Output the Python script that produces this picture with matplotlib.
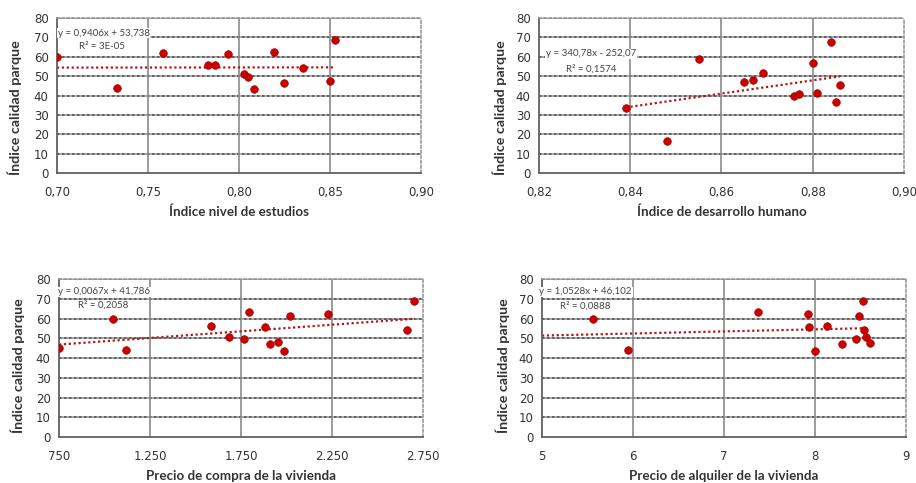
import numpy as np
import matplotlib.pyplot as plt
from matplotlib.ticker import FuncFormatter

# Panel 1: Índice nivel de estudios
estudios_x = [0.700, 0.733, 0.758, 0.783, 0.787, 0.794, 0.803, 0.805, 0.808, 0.819, 0.825, 0.835, 0.850, 0.853]
estudios_y = [59.8, 44.0, 62.2, 55.6, 56.0, 61.3, 50.9, 49.4, 43.2, 62.7, 46.6, 54.1, 47.7, 68.6]

# Panel 2: Índice de desarrollo humano
idh_x = [0.839, 0.848, 0.855, 0.865, 0.867, 0.869, 0.876, 0.877, 0.880, 0.881, 0.884, 0.885, 0.886]
idh_y = [33.7, 16.4, 59.1, 47.0, 48.2, 51.8, 39.6, 40.6, 56.6, 41.1, 67.4, 36.4, 45.4]

# Panel 3: Precio de compra de la vivienda
compra_x = [752, 1047, 1118, 1586, 1683, 1764, 1793, 1883, 1910, 1951, 1987, 2017, 2229, 2662, 2699]
compra_y = [44.9, 59.8, 44.1, 56.4, 50.8, 49.7, 63.2, 55.9, 46.9, 48.0, 43.6, 61.5, 62.4, 54.2, 69.0]

# Panel 4: Precio de alquiler de la vivienda
alquiler_x = [5.557, 5.946, 7.376, 7.926, 7.937, 8.000, 8.127, 8.300, 8.446, 8.487, 8.527, 8.538, 8.560, 8.604]
alquiler_y = [59.8, 44.1, 63.2, 62.5, 55.8, 43.4, 56.4, 46.9, 49.7, 61.5, 69.0, 54.2, 50.8, 47.8]

# trendline equations as printed on the chart
trends = [
    (0.9406, 53.738, "y = 0,9406x + 53,738", "R² = 3E-05"),
    (340.78, -252.07, "y = 340,78x - 252,07", "R² = 0,1574"),
    (0.0067, 41.786, "y = 0,0067x + 41,786", "R² = 0,2058"),
    (1.0528, 46.102, "y = 1,0528x + 46,102", "R² = 0,0888"),
]

xlabels = ["Índice nivel de estudios", "Índice de desarrollo humano",
           "Precio de compra de la vivienda", "Precio de alquiler de la vivienda"]
xlims = [(0.70, 0.90), (0.82, 0.90), (750, 2750), (5, 9)]
xticks = [np.arange(0.70, 0.901, 0.05), np.arange(0.82, 0.901, 0.02),
          [750, 1250, 1750, 2250, 2750], [5, 6, 7, 8, 9]]
fmts = [lambda v, p: f"{v:.2f}".replace(".", ","),
        lambda v, p: f"{v:.2f}".replace(".", ","),
        lambda v, p: f"{int(round(v)):,}".replace(",", "."),
        lambda v, p: f"{int(round(v))}"]
trend_range = [(0.700, 0.853), (0.839, 0.886), (750, 2700), (5.0, 8.6)]
datasets = [(estudios_x, estudios_y), (idh_x, idh_y), (compra_x, compra_y), (alquiler_x, alquiler_y)]

positions = [[0.0622, 0.6418, 0.3974, 0.3209],
             [0.5884, 0.6418, 0.3985, 0.3209],
             [0.0644, 0.0952, 0.3974, 0.3271],
             [0.5917, 0.0952, 0.3974, 0.3271]]
eq_pos = [(0.128, 0.903, 0.124, 0.819),
          (0.142, 0.768, 0.142, 0.671),
          (0.125, 0.918, 0.122, 0.835),
          (0.120, 0.918, 0.120, 0.829)]
ylabel_xy = [(-0.115, 0.42), (-0.107, 0.42), (-0.113, 0.45), (-0.107, 0.45)]
xlabel_y = [-0.25, -0.25, -0.245, -0.245]

fig = plt.figure(figsize=(9.16, 4.83), dpi=100)
fig.patch.set_facecolor("white")

for i in range(4):
    ax = fig.add_axes(positions[i])
    xs, ys = datasets[i]
    ax.set_xlim(*xlims[i])
    ax.set_ylim(0, 80)
    ax.set_xticks(xticks[i])
    ax.set_yticks(range(0, 81, 10))
    ax.xaxis.set_major_formatter(FuncFormatter(fmts[i]))
    for yv in range(10, 81, 10):
        ax.axhline(yv, color="#9a9a9a", lw=1.2, zorder=1)
        ax.axhline(yv, color="#555555", lw=1.2, ls=(0, (1.5, 1.5)), zorder=1)
    for xv in xticks[i][1:-1]:
        ax.axvline(xv, color="#8a8a8a", lw=1.2, zorder=1)
    for s in ["top", "right"]:
        ax.spines[s].set_color("#9a9a9a")
        ax.spines[s].set_linestyle((0, (1.5, 1.5)))
        ax.spines[s].set_linewidth(1.2)
    for s in ["left", "bottom"]:
        ax.spines[s].set_color("#606060")
        ax.spines[s].set_linewidth(1.3)
    ax.tick_params(length=0, labelsize=8.5, colors="#333333", pad=6)
    ax.tick_params(axis="x", pad=9)

    m, b, eq, r2 = trends[i]
    tx = np.array(trend_range[i])
    ax.plot(tx, m * tx + b, color="#b01818", ls=(0, (1, 1.2)), lw=1.6, zorder=2)
    ax.scatter(xs, ys, s=30, color="#cc0000", edgecolor="#a00000", linewidth=0.5, zorder=3)

    ex, ey, rx, ry = eq_pos[i]
    ax.text(ex, ey, eq, transform=ax.transAxes, fontsize=7, family="Lato", color="#444444",
            ha="center", va="center", bbox=dict(facecolor="white", edgecolor="none", pad=0.5), zorder=4)
    ax.text(rx, ry, r2, transform=ax.transAxes, fontsize=7, family="Lato", color="#444444",
            ha="center", va="center", bbox=dict(facecolor="white", edgecolor="none", pad=0.5), zorder=4)

    ax.set_xlabel(xlabels[i], fontsize=9.6, fontweight="bold", color="#333333", family="Lato", va="center")
    ax.xaxis.set_label_coords(0.5, xlabel_y[i])
    ax.set_ylabel("Índice calidad parque", fontsize=10.3, fontweight="bold", color="#333333",
                  family="Lato", va="center")
    ax.yaxis.set_label_coords(*ylabel_xy[i])

fig.savefig("out.png", dpi=100)
